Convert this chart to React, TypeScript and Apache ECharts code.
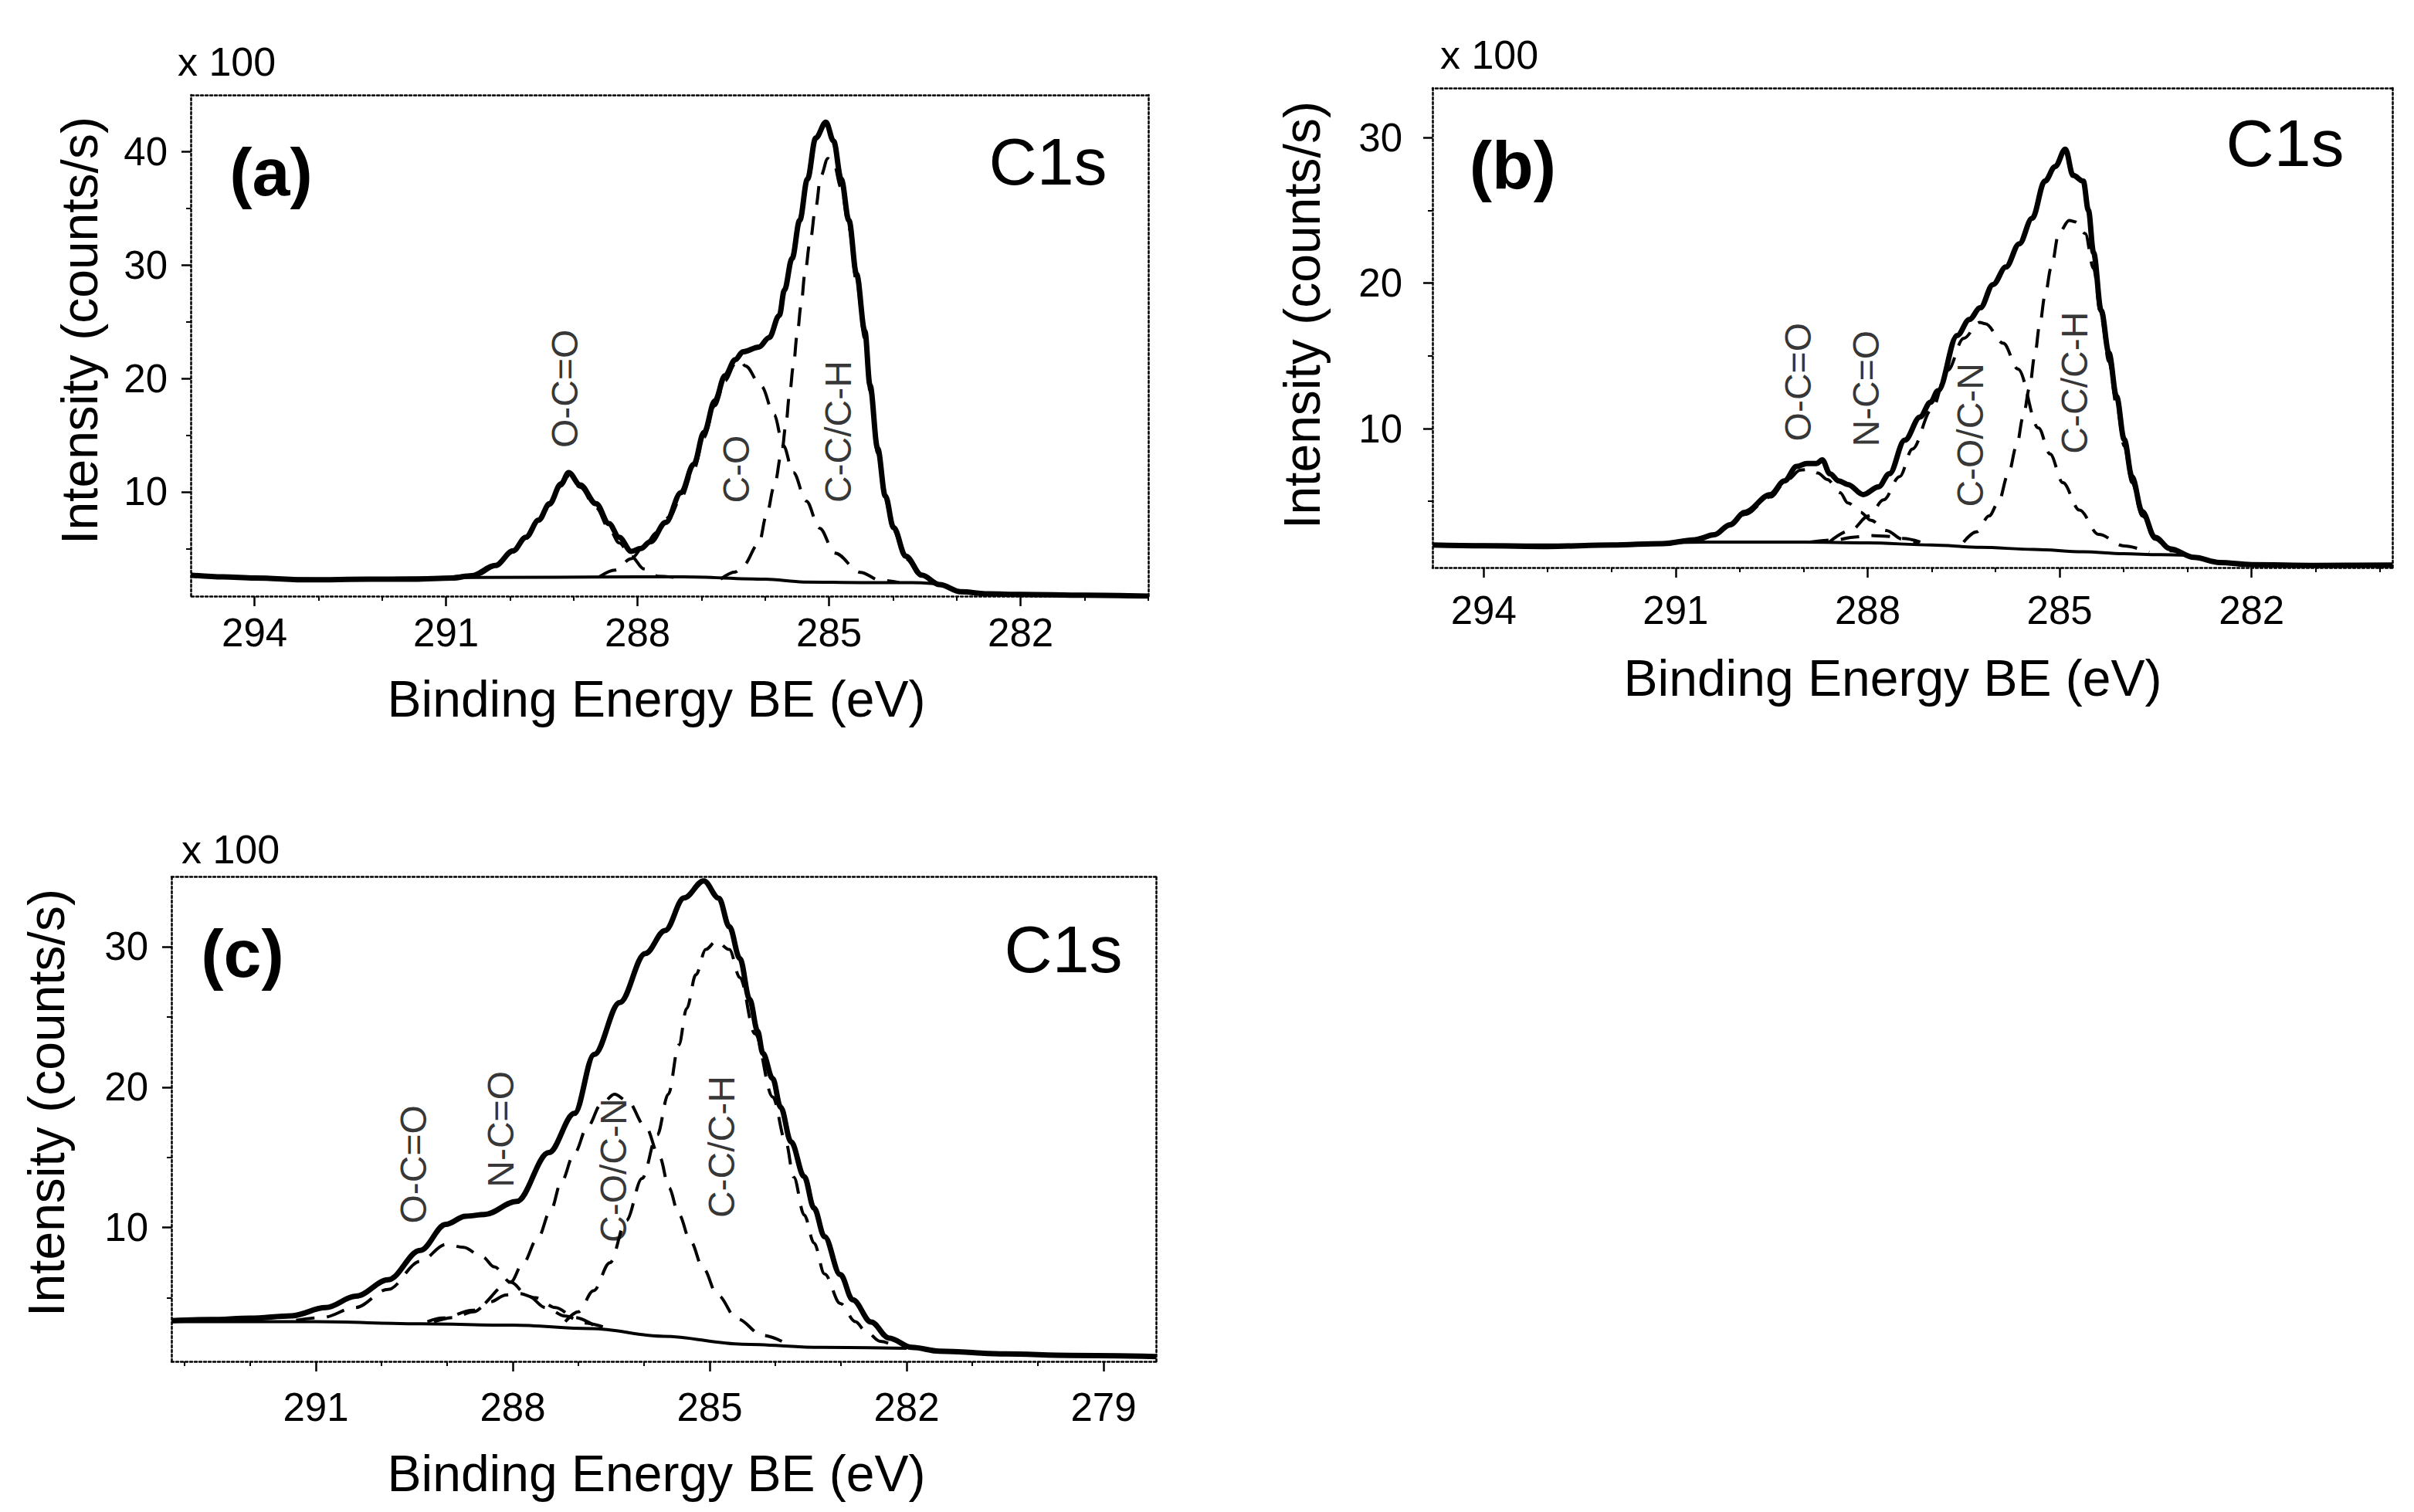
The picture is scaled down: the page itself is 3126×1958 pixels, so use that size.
import { useEffect, useRef } from "react";
import * as echarts from "echarts";

const FONT = "'Liberation Sans', Arial, Helvetica, sans-serif";

type Pt = [number, number];
type Lbl = [number, number, string];

// ---- panel (a): binding energy (eV), intensity (x100 counts/s) ----
const aEnvelope: Pt[] = [
  [295.0, 2.66], [294.5, 2.5], [294.0, 2.4], [293.15, 2.24], [292.2, 2.3], [291.5, 2.3], [290.9, 2.4],
  [290.6, 2.6], [290.23, 3.5], [289.95, 4.8], [289.75, 6.0], [289.55, 7.5], [289.38, 8.95], [289.2, 10.7],
  [289.08, 11.7], [288.9, 10.6], [288.65, 8.95], [288.45, 7.2], [288.29, 6.0], [288.1, 4.75], [287.95, 5.0],
  [287.8, 5.6], [287.56, 7.3], [287.32, 9.92], [287.12, 12.43], [286.96, 15.23], [286.79, 18.02],
  [286.63, 20.25], [286.47, 21.65], [286.35, 22.35], [286.1, 22.77], [285.94, 23.6], [285.78, 25.56],
  [285.7, 27.8], [285.58, 30.59], [285.46, 33.95], [285.34, 37.57], [285.21, 41.2], [285.05, 42.6],
  [284.93, 40.93], [284.81, 37.57], [284.69, 33.95], [284.57, 29.2], [284.44, 24.16], [284.36, 19.41],
  [284.24, 13.83], [284.12, 9.64], [283.99, 6.84], [283.8, 4.33], [283.55, 2.65], [283.27, 1.82],
  [282.94, 1.19], [282.5, 1.0], [282.0, 0.95], [281.0, 0.88], [280.0, 0.8],
];
const aBackground: Pt[] = [
  [295.0, 2.6], [293.0, 2.3], [290.5, 2.45], [288.0, 2.5], [287.3, 2.5], [286.0, 2.3], [285.4, 2.05],
  [284.5, 2.0], [283.7, 2.0], [283.35, 1.9],
];
const aOCO: Pt[] = [
  [291.0, 2.4], [290.5, 2.7], [290.23, 3.4], [289.95, 4.7], [289.75, 5.9], [289.55, 7.4], [289.38, 8.8],
  [289.2, 10.5], [289.08, 11.4], [288.9, 10.4], [288.65, 8.6], [288.45, 6.8], [288.29, 5.5], [288.1, 4.3],
  [287.9, 3.2], [287.68, 2.55], [287.4, 2.45],
];
const aCO: Pt[] = [
  [288.6, 2.5], [288.35, 3.1], [288.1, 4.1], [287.9, 5.2], [287.7, 6.4], [287.5, 7.8], [287.32, 9.5],
  [287.12, 12.0], [286.96, 14.8], [286.79, 17.6], [286.63, 19.8], [286.47, 21.3], [286.4, 21.6],
  [286.31, 21.1], [286.06, 19.3], [285.86, 16.8], [285.72, 14.1], [285.56, 11.7], [285.36, 9.2],
  [285.15, 6.8], [284.91, 4.6], [284.51, 2.9], [284.2, 2.2], [283.9, 2.0],
];
const aCC: Pt[] = [
  [286.7, 2.3], [286.47, 2.93], [286.35, 3.49], [286.1, 5.45], [285.98, 7.96], [285.86, 10.48],
  [285.74, 13.55], [285.68, 15.79], [285.62, 18.58], [285.56, 21.09], [285.5, 23.88], [285.44, 26.4],
  [285.38, 29.2], [285.3, 32.0], [285.21, 35.07], [285.13, 37.85], [285.02, 39.4], [284.93, 39.0],
  [284.81, 36.8], [284.69, 33.3], [284.57, 28.5], [284.44, 23.5], [284.36, 18.9], [284.24, 13.4],
  [284.12, 9.3], [283.99, 6.6], [283.8, 4.1], [283.55, 2.5], [283.27, 1.8],
];
const aLabels: Lbl[] = [[289.14, 19.1, "O-C=O"], [286.45, 12.0, "C-O"], [284.86, 15.3, "C-C/C-H"]];

// ---- panel (b) ----
const bEnvelope: Pt[] = [
  [294.8, 2.0], [294.0, 1.95], [293.0, 1.9], [292.0, 2.0], [291.2, 2.1], [290.69, 2.36], [290.4, 2.7],
  [290.15, 3.4], [289.92, 4.24], [289.52, 5.47], [289.3, 6.4], [289.11, 7.4], [288.95, 7.6], [288.8, 7.6],
  [288.71, 7.85], [288.59, 6.9], [288.45, 6.4], [288.31, 6.16], [288.07, 5.47], [287.83, 6.0], [287.66, 6.9],
  [287.42, 9.2], [287.18, 10.8], [287.02, 11.8], [286.9, 12.6], [286.6, 16.4], [286.41, 17.5], [286.24, 18.3],
  [286.04, 19.9], [285.84, 21.1], [285.63, 22.7], [285.43, 24.45], [285.23, 27.0], [285.07, 28.0],
  [284.91, 29.2], [284.79, 27.4], [284.63, 27.0], [284.55, 25.0], [284.47, 22.1], [284.35, 18.1],
  [284.23, 15.2], [284.11, 12.2], [283.99, 9.25], [283.87, 6.7], [283.71, 4.3], [283.51, 2.53],
  [283.27, 1.74], [282.9, 1.15], [282.5, 0.8], [282.0, 0.65], [281.0, 0.6], [279.8, 0.62],
];
const bBackground: Pt[] = [
  [294.8, 2.0], [292.5, 2.0], [290.5, 2.2], [289.0, 2.2], [288.0, 2.15], [287.0, 2.0], [286.24, 1.84],
  [285.4, 1.7], [284.63, 1.54], [284.0, 1.4], [283.43, 1.34], [283.0, 1.3],
];
const bOCO: Pt[] = [
  [290.8, 2.25], [290.4, 2.7], [290.15, 3.3], [289.92, 4.1], [289.52, 5.3], [289.25, 6.5], [289.05, 7.15],
  [288.9, 7.2], [288.78, 6.95], [288.63, 6.5], [288.43, 5.6], [288.31, 4.9], [288.11, 4.25], [287.95, 3.7],
  [287.71, 3.0], [287.45, 2.4], [287.2, 2.1],
];
const bNCO: Pt[] = [
  [288.9, 2.2], [288.5, 2.35], [288.2, 2.55], [287.95, 2.65], [287.7, 2.6], [287.45, 2.45], [287.1, 2.1],
];
const bCOCN: Pt[] = [
  [288.6, 2.2], [288.27, 3.0], [287.98, 4.0], [287.75, 5.1], [287.5, 6.7], [287.3, 8.6], [287.0, 11.3],
  [286.75, 14.0], [286.5, 16.2], [286.25, 17.3], [286.16, 17.2], [285.88, 15.86], [285.65, 14.09],
  [285.33, 10.04], [285.15, 8.26], [284.95, 6.28], [284.69, 4.4], [284.39, 2.73], [283.99, 1.93], [283.6, 1.5],
];
const bCC: Pt[] = [
  [286.5, 2.2], [286.3, 2.9], [286.1, 4.0], [285.96, 4.9], [285.8, 6.9], [285.67, 8.85], [285.57, 10.8],
  [285.47, 12.8], [285.39, 14.97], [285.31, 17.15], [285.23, 19.1], [285.13, 21.1], [285.01, 23.46],
  [284.85, 24.3], [284.75, 24.2], [284.6, 23.4], [284.47, 21.0], [284.35, 17.6], [284.23, 14.6],
  [284.11, 11.6], [283.99, 8.8], [283.87, 6.3], [283.71, 4.0], [283.51, 2.4], [283.27, 1.6], [283.0, 1.3],
];
const bLabels: Lbl[] = [
  [289.08, 13.2, "O-C=O"], [288.02, 12.75, "N-C=O"], [286.39, 9.56, "C-O/C-N"], [284.76, 13.15, "C-C/C-H"],
];

// ---- panel (c) ----
const cEnvelope: Pt[] = [
  [293.2, 3.37], [292.6, 3.45], [292.0, 3.55], [291.37, 3.72], [290.85, 4.3], [290.39, 5.11], [289.9, 6.28],
  [289.41, 8.37], [289.02, 10.23], [288.72, 10.81], [288.43, 10.93], [287.94, 11.86], [287.45, 15.34],
  [287.06, 18.13], [286.76, 22.32], [286.37, 26.03], [285.98, 29.52], [285.68, 31.15], [285.39, 33.47],
  [285.09, 34.69], [284.86, 33.45], [284.7, 31.42], [284.54, 29.16], [284.39, 26.24], [284.27, 23.99],
  [284.19, 22.41], [284.04, 20.61], [283.92, 18.58], [283.76, 16.1], [283.56, 13.63], [283.41, 11.38],
  [283.25, 9.35], [283.01, 6.65], [282.82, 4.85], [282.54, 3.27], [282.27, 2.14], [281.92, 1.47],
  [281.5, 1.2], [280.5, 1.0], [279.5, 0.9], [278.2, 0.82],
];
const cBackground: Pt[] = [
  [293.2, 3.3], [291.0, 3.3], [289.4, 3.15], [288.0, 3.05], [286.8, 2.8], [285.7, 2.26], [284.5, 1.7],
  [283.3, 1.47], [282.0, 1.4],
];
const cOCO: Pt[] = [
  [291.3, 3.4], [290.9, 3.6], [290.4, 4.3], [289.9, 5.6], [289.41, 7.6], [289.02, 8.8], [288.75, 8.6],
  [288.46, 7.9], [288.28, 7.2], [288.03, 6.1], [287.76, 5.1], [287.5, 4.3], [287.2, 3.7], [286.9, 3.2],
  [286.6, 2.9],
];
const cNCO: Pt[] = [
  [289.2, 3.3], [288.9, 3.6], [288.6, 4.0], [288.35, 4.7], [288.1, 5.2], [287.9, 5.3], [287.65, 5.0],
  [287.35, 4.3], [287.05, 3.6], [286.75, 3.0],
];
const cCOCN: Pt[] = [
  [289.3, 3.3], [289.07, 3.56], [288.61, 4.11], [288.03, 6.13], [287.85, 7.41], [287.62, 9.24],
  [287.42, 11.25], [287.26, 13.27], [287.06, 15.3], [286.86, 17.2], [286.65, 18.8], [286.45, 19.5],
  [286.25, 19.0], [285.98, 17.2], [285.76, 15.0], [285.62, 12.84], [285.47, 10.93], [285.29, 9.01],
  [285.1, 7.1], [284.88, 5.19], [284.58, 3.49], [284.19, 2.32], [283.9, 1.9],
];
const cCC: Pt[] = [
  [287.2, 3.3], [287.0, 4.0], [286.77, 5.5], [286.52, 7.5], [286.27, 10.5], [286.03, 13.5], [285.8, 16.6],
  [285.63, 19.5], [285.47, 23.0], [285.35, 25.6], [285.21, 28.0], [285.06, 29.8], [284.9, 30.4],
  [284.7, 29.8], [284.54, 27.8], [284.31, 23.8], [284.04, 19.3], [283.84, 16.1], [283.72, 13.6],
  [283.56, 10.9], [283.41, 8.9], [283.25, 6.7], [283.01, 4.6], [282.78, 3.3], [282.62, 2.6], [282.4, 1.9],
  [282.15, 1.5],
];
const cLabels: Lbl[] = [
  [289.51, 14.5, "O-C=O"], [288.18, 17.0, "N-C=O"], [286.47, 14.07, "C-O/C-N"], [284.82, 15.75, "C-C/C-H"],
];

// ---- ticks ----
const abXMajor = [294, 291, 288, 285, 282];
const abXMinor = [293, 292, 290, 289, 287, 286, 284, 283, 281, 280];
const cXMajor = [291, 288, 285, 282, 279];
const cXMinor = [293, 292, 290, 289, 287, 286, 284, 283, 281, 280];
const aYMajor = [10, 20, 30, 40];
const aYMinor = [5, 15, 25, 35];
const bcYMajor = [10, 20, 30];
const bcYMinor = [5, 15, 25];

const Y_TITLE = "Intensity (counts/s)";
const X_TITLE = "Binding Energy BE (eV)";

const panels = [
  {
    letter: "(a)", grid: { left: 247, top: 123, width: 1240, height: 649 },
    xMin: 280, xMax: 295, yMin: 0.8, yMax: 45,
    xMajor: abXMajor, xMinor: abXMinor, yMajor: aYMajor, yMinor: aYMinor,
    xMargin: 22, yMargin: 30,
    envelope: aEnvelope, background: aBackground, comps: [aOCO, aCO, aCC], labels: aLabels,
    text: { x100: [230, 80], letter: [351, 222], c1s: [1357, 209], yTitle: [103, 428], xTitle: [850, 905] },
  },
  {
    letter: "(b)", grid: { left: 1855, top: 114, width: 1243, height: 621 },
    xMin: 279.8, xMax: 294.8, yMin: 0.45, yMax: 33.4,
    xMargin: 30, yMargin: 39,
    xMajor: abXMajor, xMinor: abXMinor, yMajor: bcYMajor, yMinor: bcYMinor,
    envelope: bEnvelope, background: bBackground, comps: [bOCO, bNCO, bCOCN, bCC], labels: bLabels,
    text: { x100: [1865, 71], letter: [1959, 213], c1s: [2959, 185], yTitle: [1686, 408], xTitle: [2451, 878] },
  },
  {
    letter: "(c)", grid: { left: 222, top: 1135, width: 1275, height: 628 },
    xMin: 278.2, xMax: 293.2, yMin: 0.47, yMax: 35,
    xMajor: cXMajor, xMinor: cXMinor, yMajor: bcYMajor, yMinor: bcYMinor,
    xMargin: 34, yMargin: 30,
    envelope: cEnvelope, background: cBackground, comps: [cOCO, cNCO, cCOCN, cCC], labels: cLabels,
    text: { x100: [235, 1100], letter: [314, 1234], c1s: [1377, 1229], yTitle: [60, 1428], xTitle: [850, 1908] },
  },
];

const BORDER = { color: "#000", width: 2.5, type: [3, 3] as number[] };

function buildOption(): echarts.EChartsOption {
  const grid: any[] = [];
  const xAxis: any[] = [];
  const yAxis: any[] = [];
  const series: any[] = [];
  const graphic: any[] = [];
  const label = { fontSize: 51, color: "#000", fontFamily: FONT };

  panels.forEach((p, i) => {
    grid.push({ ...p.grid, containLabel: false });
    const xBase = { type: "value", gridIndex: i, min: p.xMin, max: p.xMax, inverse: true, splitLine: { show: false } };
    const yBase = { type: "value", gridIndex: i, min: p.yMin, max: p.yMax, splitLine: { show: false } };
    xAxis.push(
      { ...xBase, position: "bottom",
        axisLine: { show: true, onZero: false, lineStyle: BORDER },
        axisTick: { show: true, customValues: p.xMajor, length: 13, lineStyle: { color: "#000", width: 2.5 } },
        axisLabel: { show: true, customValues: p.xMajor, margin: p.xMargin, ...label } },
      { ...xBase, position: "bottom",
        axisLine: { show: false, onZero: false },
        axisTick: { show: true, customValues: p.xMinor, length: 6, lineStyle: { color: "#000", width: 2 } },
        axisLabel: { show: false } },
      { ...xBase, position: "top",
        axisLine: { show: true, onZero: false, lineStyle: BORDER },
        axisTick: { show: false }, axisLabel: { show: false } },
    );
    yAxis.push(
      { ...yBase, position: "left",
        axisLine: { show: true, onZero: false, lineStyle: BORDER },
        axisTick: { show: true, customValues: p.yMajor, length: 12, lineStyle: { color: "#000", width: 2.5 } },
        axisLabel: { show: true, customValues: p.yMajor, margin: p.yMargin, ...label } },
      { ...yBase, position: "left",
        axisLine: { show: false, onZero: false },
        axisTick: { show: true, customValues: p.yMinor, length: 6, lineStyle: { color: "#000", width: 2 } },
        axisLabel: { show: false } },
      { ...yBase, position: "right",
        axisLine: { show: true, onZero: false, lineStyle: BORDER },
        axisTick: { show: false }, axisLabel: { show: false } },
    );

    const idx = { xAxisIndex: 3 * i, yAxisIndex: 3 * i };
    const lineBase = { type: "line", ...idx, showSymbol: false, smooth: 0.35, smoothMonotone: "x", silent: true };
    series.push({ ...lineBase, name: `${p.letter} background`, data: p.background,
      lineStyle: { color: "#000", width: 4 } });
    p.comps.forEach((c, k) => series.push({ ...lineBase, name: `${p.letter} component ${k + 1}`, data: c,
      lineStyle: { color: "#000", width: 4, type: [24, 16] } }));
    series.push({ ...lineBase, name: `${p.letter} envelope`, data: p.envelope, z: 5,
      lineStyle: { color: "#000", width: 7 } });
    series.push({ type: "scatter", ...idx, name: `${p.letter} labels`, data: p.labels, symbolSize: 1, silent: true,
      itemStyle: { color: "transparent" },
      label: { show: true, position: "inside", rotate: 90, formatter: (q: any) => q.data[2],
        fontSize: 48, color: "#000", fontFamily: FONT } });

    const t = p.text;
    graphic.push(
      { type: "text", x: t.x100[0], y: t.x100[1],
        style: { text: "x 100", fontSize: 52, fontFamily: FONT, fill: "#000", align: "left", verticalAlign: "middle" } },
      { type: "text", x: t.letter[0], y: t.letter[1],
        style: { text: p.letter, fontSize: 88, fontWeight: "bold", fontFamily: FONT, fill: "#000", align: "center", verticalAlign: "middle" } },
      { type: "text", x: t.c1s[0], y: t.c1s[1],
        style: { text: "C1s", fontSize: 86, fontFamily: FONT, fill: "#000", align: "center", verticalAlign: "middle" } },
      { type: "text", x: t.yTitle[0], y: t.yTitle[1], rotation: Math.PI / 2,
        style: { text: Y_TITLE, fontSize: 66, fontFamily: FONT, fill: "#000", align: "center", verticalAlign: "middle" } },
      { type: "text", x: t.xTitle[0], y: t.xTitle[1],
        style: { text: X_TITLE, fontSize: 66, fontFamily: FONT, fill: "#000", align: "center", verticalAlign: "middle" } },
    );
  });

  return { animation: false, backgroundColor: "#fff", grid, xAxis, yAxis, series, graphic } as any;
}

export default function App() {
  const ref = useRef<HTMLDivElement>(null);

  useEffect(() => {
    document.body.style.margin = "0";
    if (!ref.current) return;
    const chart = echarts.init(ref.current, undefined, { renderer: "svg" });
    chart.setOption(buildOption());
    return () => chart.dispose();
  }, []);

  return <div ref={ref} style={{ width: 3126, height: 1958, background: "#fff" }} />;
}
